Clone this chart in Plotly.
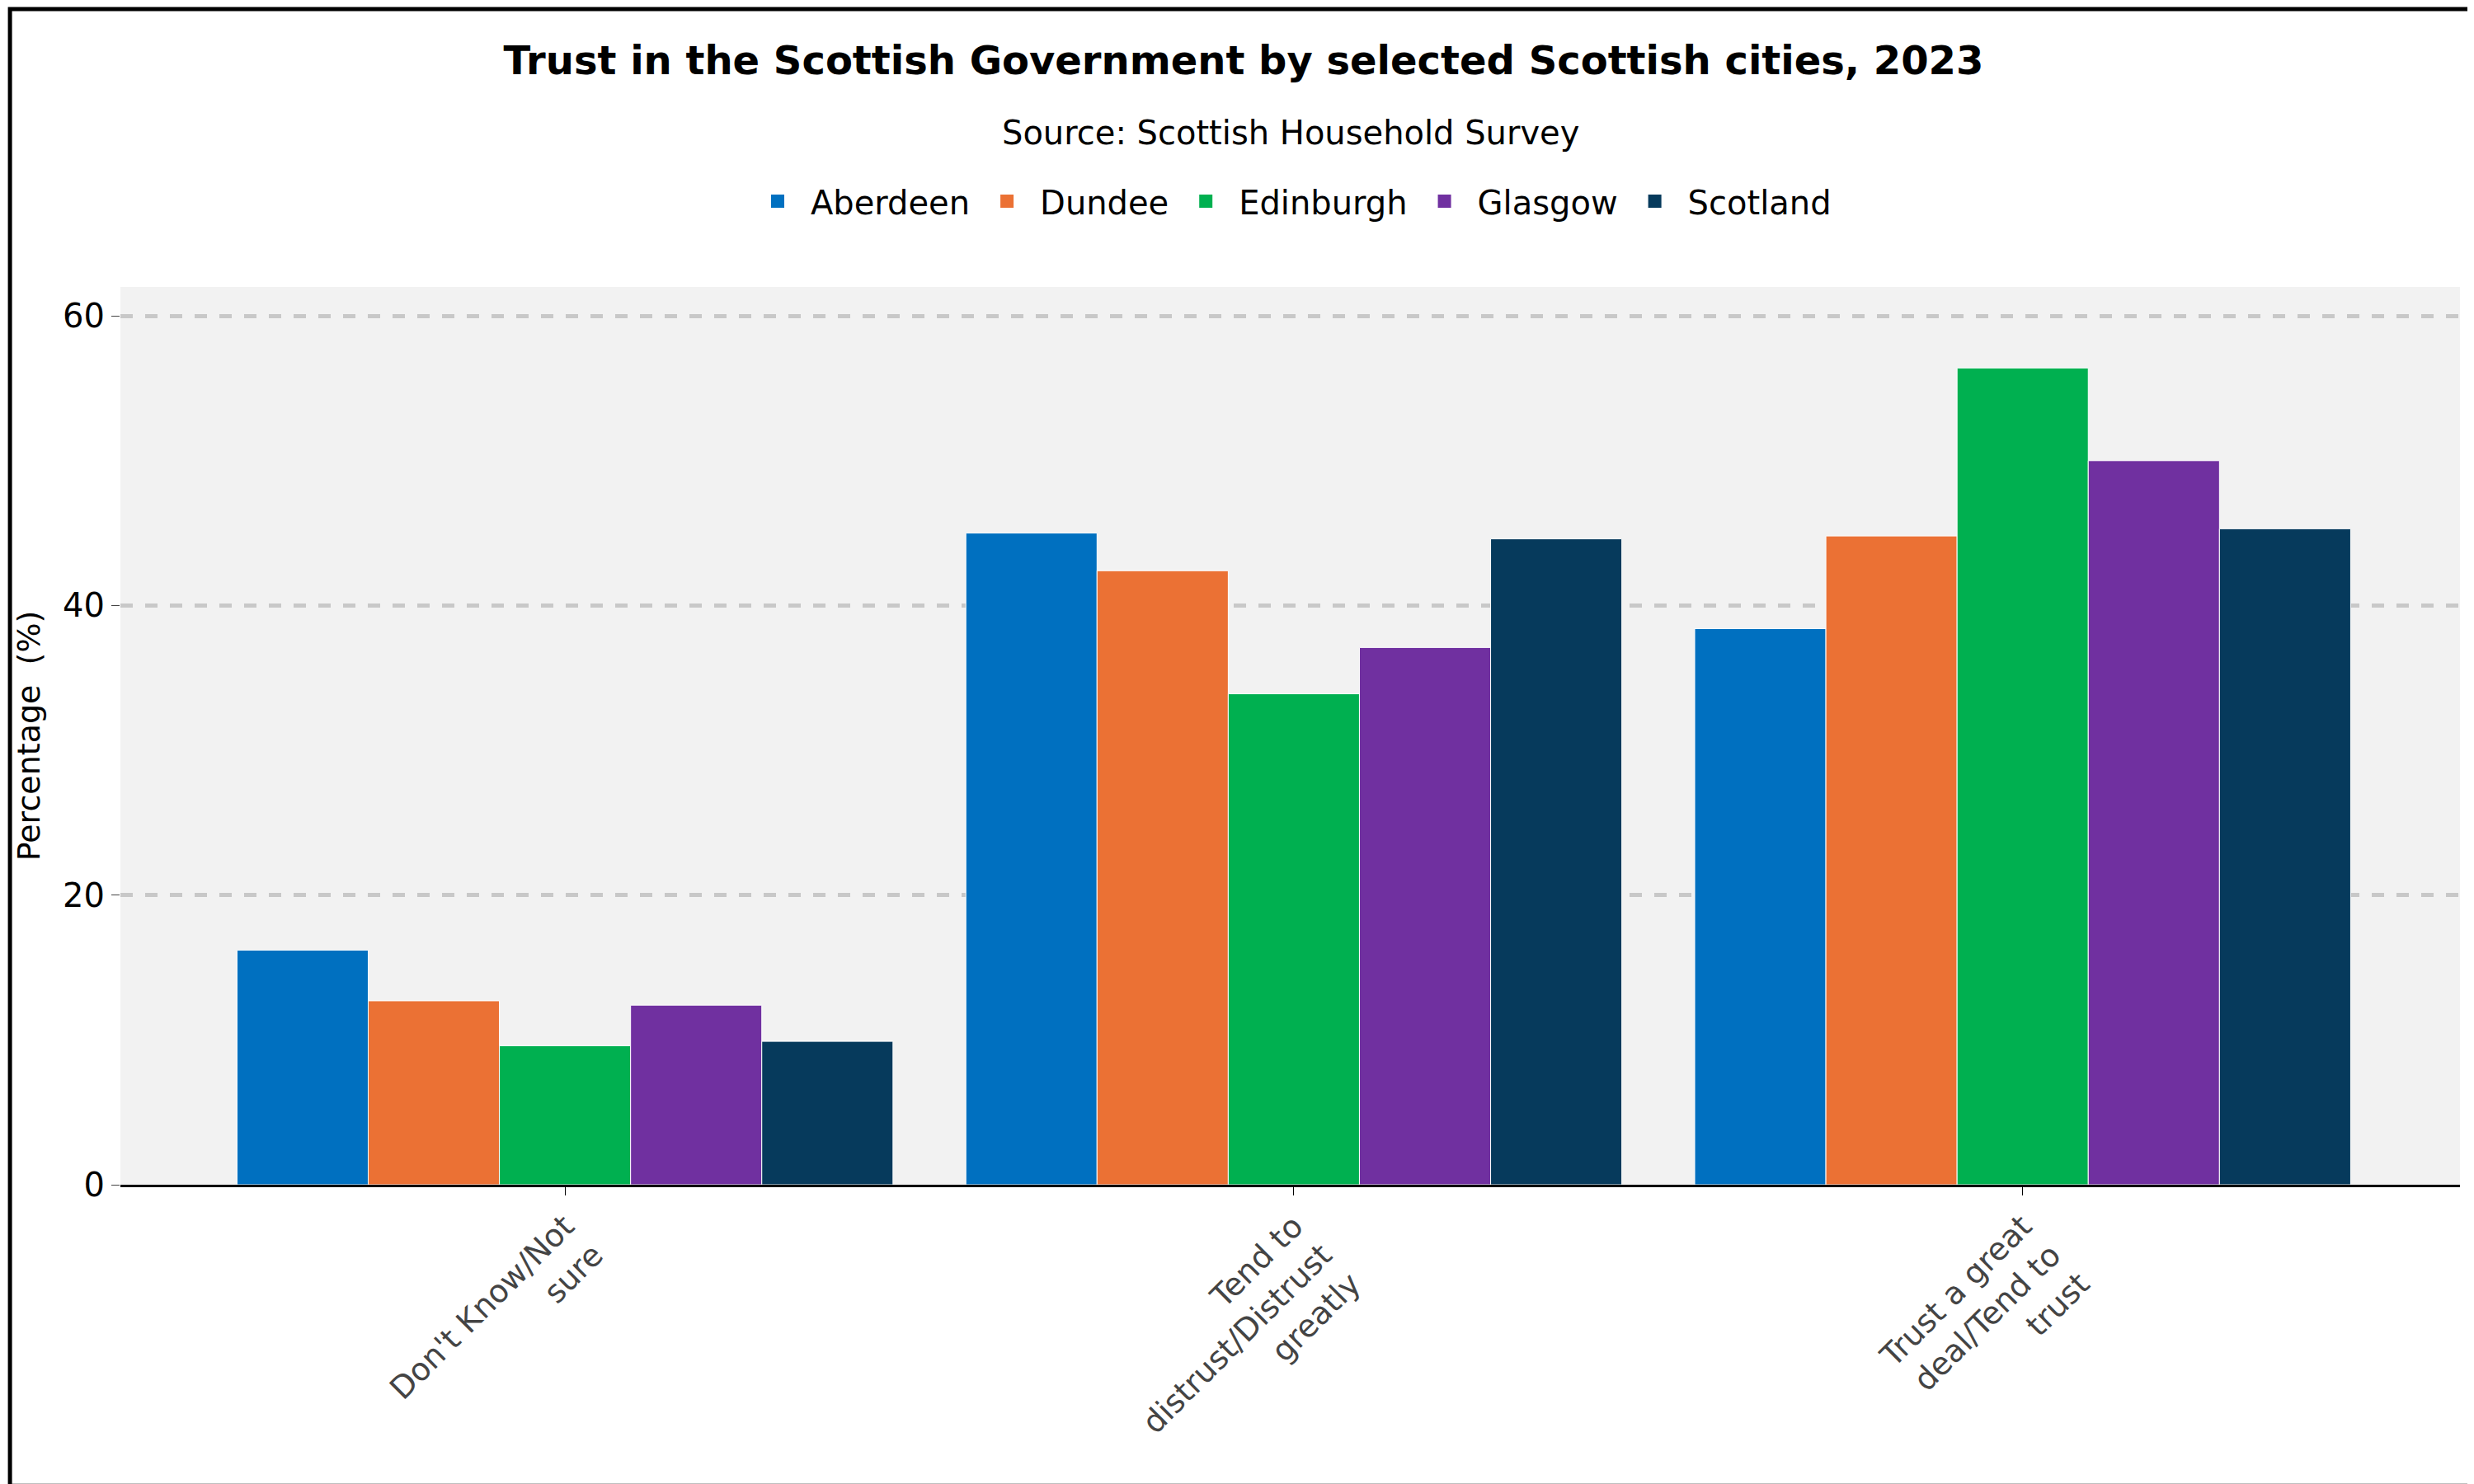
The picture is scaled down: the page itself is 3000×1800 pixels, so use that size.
import plotly.graph_objects as go

categories = ["Don't Know/Not<br>sure", "Tend to<br>distrust/Distrust<br>greatly", "Trust a great<br>deal/Tend to<br>trust"]
series = ["Aberdeen", "Dundee", "Edinburgh", "Glasgow", "Scotland"]
values = {
    "Aberdeen": [16.2, 45.0, 38.4],
    "Dundee": [12.7, 42.4, 44.8],
    "Edinburgh": [9.6, 33.9, 56.4],
    "Glasgow": [12.4, 37.1, 50.0],
    "Scotland": [9.9, 44.6, 45.3],
}
colors = ["#0070c0", "#eb7134", "#00b050", "#7030a0", "#063a5c"]

fig = go.Figure()
for s, c in zip(series, colors):
    fig.add_trace(go.Bar(name=s, x=categories, y=values[s], marker_color=c,
                         marker_line_color="white", marker_line_width=1, showlegend=False))
for s, c in zip(series, colors):
    fig.add_trace(go.Scatter(name=s, x=[None], y=[None], mode="markers",
                             marker=dict(symbol="square", size=66, color=c)))

fig.update_layout(
    width=3000, height=1800, barmode="group", bargap=0.1, bargroupgap=0,
    paper_bgcolor="white", plot_bgcolor="#f2f2f2",
    font=dict(family="DejaVu Sans", size=40, color="black"),
    margin=dict(l=138, r=25, t=340, b=371),
    title=dict(text="<b>Trust in the Scottish Government by selected Scottish cities, 2023</b>",
               x=0.5, xanchor="center", y=1 - 65 / 1800, yanchor="middle", font=dict(size=48)),
    legend=dict(orientation="h", x=0.5, xanchor="center", y=1 + (340 - 236) / 1089, yanchor="middle",
                font=dict(size=40), itemwidth=70, traceorder="normal", itemsizing="trace"),
    annotations=[dict(text="Source: Scottish Household Survey", xref="paper", yref="paper",
                      x=0.5, y=1 + (340 - 153) / 1089, showarrow=False, font=dict(size=40),
                      yanchor="middle")],
    shapes=[dict(type="rect", xref="paper", yref="paper", x0=-0.0472, x1=1.0068, y0=-0.3355, y1=1.3095,
                 line=dict(color="black", width=5))],
)
fig.update_xaxes(range=[-0.61, 2.6], tickangle=-45, showline=True, linecolor="black", linewidth=3,
                 ticks="outside", tickcolor="black", ticklen=10, tickfont=dict(size=38, color="#444"))
fig.update_yaxes(range=[0, 62], tickvals=[0, 20, 40, 60], showgrid=True, gridcolor="#c8c8c8",
                 griddash="dash", gridwidth=5, zeroline=False, ticks="outside", ticklen=10,
                 tickfont=dict(size=40),
                 title=dict(text="Percentage  (%)", font=dict(size=38), standoff=15))
fig.write_html("out.html")
